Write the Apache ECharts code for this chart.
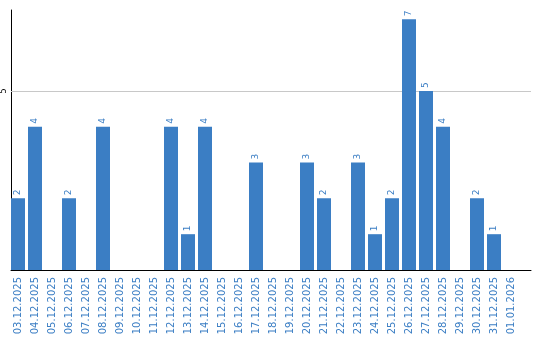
<!DOCTYPE html>
<html><head><meta charset="utf-8">
<script src="https://cdn.jsdelivr.net/npm/echarts@6/dist/echarts.min.js"></script>
<style>html,body{margin:0;padding:0;background:#fff}#c{width:540px;height:340px}</style>
</head><body><div id="c"></div>
<script>
const categories = ["03.12.2025","04.12.2025","05.12.2025","06.12.2025","07.12.2025","08.12.2025","09.12.2025","10.12.2025","11.12.2025","12.12.2025","13.12.2025","14.12.2025","15.12.2025","16.12.2025","17.12.2025","18.12.2025","19.12.2025","20.12.2025","21.12.2025","22.12.2025","23.12.2025","24.12.2025","25.12.2025","26.12.2025","27.12.2025","28.12.2025","29.12.2025","30.12.2025","31.12.2025","01.01.2026"];
const values = [2,4,0,2,0,4,0,0,0,4,1,4,0,0,3,0,0,3,2,0,3,1,2,7,5,4,0,2,1,0];
const yTicks = [5];
const yMax = 7.26;

const blue = '#3b7ec4';
const chart = echarts.init(document.getElementById('c'), null, {renderer:'canvas'});
chart.setOption({
  animation:false,
  grid:[
    {left:9.5,right:20.5,top:10,bottom:70,containLabel:false},
    {left:10,right:9,top:10,bottom:70,containLabel:false}
  ],
  xAxis:[
    {type:'category',gridIndex:0,data:categories,
      axisLine:{show:false},axisTick:{show:false},
      axisLabel:{rotate:90,interval:0,color:blue,fontFamily:'DejaVu Sans',fontSize:10,margin:7}},
    {type:'value',gridIndex:1,min:0,max:1,show:true,
      axisLine:{show:true,lineStyle:{color:'#000',width:1}},axisTick:{show:false},
      axisLabel:{show:false},splitLine:{show:false}}
  ],
  yAxis:[
    {type:'value',gridIndex:0,min:0,max:yMax,show:false,splitLine:{show:false}},
    {type:'value',gridIndex:1,min:0,max:yMax,interval:5,
      axisLine:{show:true,lineStyle:{color:'#000',width:1}},axisTick:{show:false},
      splitLine:{show:false},
      axisLabel:{rotate:90,color:'#000',fontFamily:'DejaVu Sans',fontSize:8,margin:3,
        formatter:v=>yTicks.includes(v)?String(v):''}}
  ],
  series:[
    {type:'line',xAxisIndex:1,yAxisIndex:1,data:[],z:1,silent:true,
      markLine:{z:1,silent:true,symbol:'none',label:{show:false},
        lineStyle:{color:'#c8c8c8',type:'solid',width:1},
        data:yTicks.map(t=>({yAxis:t}))}},
    {type:'bar',xAxisIndex:0,yAxisIndex:0,data:values.map(v=>v===0?null:v),z:3,barWidth:14,
      itemStyle:{color:blue},
      label:{show:true,position:'top',rotate:90,align:'left',verticalAlign:'middle',distance:3,
        color:blue,fontFamily:'DejaVu Sans',fontSize:9}}
  ]
});
</script></body></html>
